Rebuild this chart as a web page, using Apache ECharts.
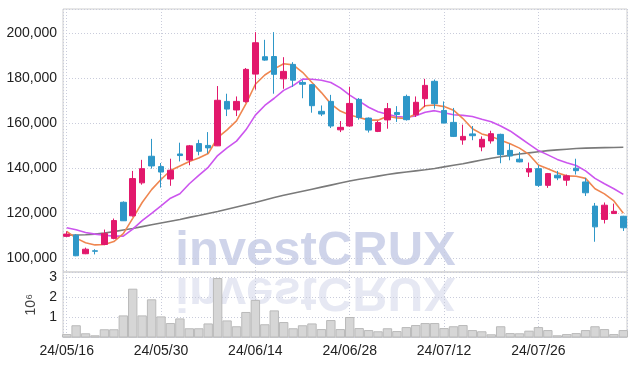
<!DOCTYPE html>
<html>
<head>
<meta charset="utf-8">
<script src="https://cdn.jsdelivr.net/npm/echarts@6/dist/echarts.min.js"></script>
<style>
html,body{margin:0;padding:0;background:#fff;}
#c{width:636px;height:366px;}
</style>
</head>
<body>
<div id="c"></div>
<script>
const dates = ['24/05/16','24/05/17','24/05/20','24/05/21','24/05/22','24/05/23','24/05/24','24/05/27','24/05/28','24/05/29',
'24/05/30','24/05/31','24/06/03','24/06/04','24/06/05','24/06/07','24/06/10','24/06/11','24/06/12','24/06/13',
'24/06/14','24/06/17','24/06/18','24/06/19','24/06/20','24/06/21','24/06/24','24/06/25','24/06/26','24/06/27',
'24/06/28','24/07/01','24/07/02','24/07/03','24/07/04','24/07/05','24/07/08','24/07/09','24/07/10','24/07/11',
'24/07/12','24/07/15','24/07/16','24/07/17','24/07/18','24/07/19','24/07/22','24/07/23','24/07/24','24/07/25',
'24/07/26','24/07/29','24/07/30','24/07/31','24/08/01','24/08/02','24/08/05','24/08/06','24/08/07','24/08/08'];

const openP = [109800,110300,102100,103400,106200,108900,124900,118900,133500,145300,
140700,135200,146300,143600,150900,150100,149900,169600,165800,169500,
181700,189400,189500,179600,186000,178000,177000,165200,169600,157000,
158700,170500,162200,156300,161400,164700,171800,163700,170800,178500,
165600,160300,152500,155200,149400,152100,155000,147900,144000,138300,
139800,132400,136900,134700,140000,133900,123200,117300,119900,118700];
const closeP = [110800,101200,104100,103200,111100,116800,116700,135400,139800,141000,
138300,139100,145600,149900,147500,149000,170100,166200,169600,183800,
195600,187900,181600,182900,179000,177200,167700,164000,158700,158100,
168700,162500,156900,160200,166400,163800,161500,169200,176700,168600,
160000,154100,154100,154400,152800,155300,146000,145400,142800,139800,
132400,137600,135700,136600,138900,129100,114000,123600,120900,113600];
const lowP = [109500,101000,101900,101800,105900,108500,116600,118500,132700,139800,
131400,132200,143000,141300,145700,146500,149800,163100,163100,169000,
174800,187600,173000,175200,176000,171000,164600,163100,157800,156000,
158400,161500,155800,156000,157500,160500,161100,162700,167100,166400,
159900,153800,150400,152400,147500,150900,142200,143500,142600,136100,
131700,131300,134700,132200,137200,127700,107400,115500,119800,112200];
const highP = [112000,110800,104800,104100,112800,117700,125300,138800,143700,153000,
142300,144200,151300,150300,152600,156000,176400,173000,171800,184400,
200300,196900,200300,189200,187000,179000,177300,167800,172500,160900,
176100,171100,162500,161000,168900,167500,172600,171800,179600,179300,
169600,166700,159300,158700,154100,156600,155300,150900,147200,142500,
141300,137900,138800,137200,144200,135700,124600,124800,124300,118900];

const ma5 = [112000,109000,107000,106000,106200,107500,111000,117800,124800,130500,
135000,139000,141000,143000,144500,146500,153500,157000,161000,168500,
177200,181300,184000,186300,185800,182500,178000,173500,168500,165300,
163600,162500,161300,161300,163000,162300,162000,164000,167700,168000,
167300,165700,162000,157500,155200,154100,152400,150800,148900,146100,
141400,139800,138000,136600,136400,135500,130900,128600,125500,120000];
const ma10 = [113600,112700,111500,110800,110300,109900,109900,113000,116800,120000,
123300,126700,128700,133100,136800,140400,145600,149000,152000,157000,
163500,167800,171000,174500,176600,179500,179400,179000,178000,175600,
172400,169700,167000,165000,163900,162900,162600,163200,164800,165500,
164600,163700,163400,162900,161700,160600,158700,156500,153600,150700,
147800,145900,143900,142450,141200,138800,135500,133100,130900,128400];
const ma60 = [110300,110400,110500,110800,111300,111900,112600,113300,114100,114900,
115700,116500,117300,118200,119000,119900,120800,121800,122800,123800,
124800,125900,127000,128000,128900,129800,130700,131600,132500,133400,
134300,135100,135800,136500,137200,137800,138300,138800,139300,139900,
140600,141300,142000,142800,143600,144400,145100,145700,146300,146800,
147300,147800,148100,148400,148700,148900,149000,149100,149200,149300];

const volumeM = [0.17,0.61,0.21,0.11,0.41,0.41,1.10,2.43,1.10,1.90,
1.05,0.72,0.95,0.46,0.46,0.70,2.96,0.85,0.56,1.27,
1.87,0.66,1.35,0.77,0.46,0.61,0.70,0.42,0.87,0.42,
1.02,0.47,0.37,0.31,0.46,0.32,0.52,0.62,0.72,0.72,
0.47,0.56,0.62,0.37,0.31,0.16,0.56,0.22,0.21,0.34,
0.52,0.37,0.11,0.17,0.22,0.37,0.56,0.42,0.17,0.37];

const UP = '#e2186c', DOWN = '#2e97c8';
const FONT = "'Liberation Sans',sans-serif";
const GRIDC = '#c9ccdb';

const candleData = dates.map((d, i) => [i, openP[i], closeP[i], lowP[i], highP[i]]);
const pairs = arr => arr.map((v, i) => [i, v]);

const chart = echarts.init(document.getElementById('c'), null, {renderer: 'canvas'});
const xCommon = {
  type: 'value', min: -0.39, max: 59.39, splitNumber: 6,
  axisLine: {show: false}, axisTick: {show: false},
  splitLine: {show: true, lineStyle: {color: GRIDC, type: [1, 2], width: 1}}
};
chart.setOption({
  animation: false,
  backgroundColor: '#fff',
  grid: [
    {left: 63, right: 9, top: 9, height: 263, show: true, borderColor: '#cfcfcf', borderWidth: 1,
     containLabel: false, outerBoundsMode: 'none'},
    {left: 63, right: 9, top: 272, height: 65.5, show: true, borderColor: '#cfcfcf', borderWidth: 1,
     containLabel: false, outerBoundsMode: 'none'}
  ],
  xAxis: [
    Object.assign({}, xCommon, {gridIndex: 0, axisLabel: {show: false}}),
    Object.assign({}, xCommon, {gridIndex: 1, axisLabel: {
      show: true, showMinLabel: false, showMaxLabel: false, margin: 7,
      color: '#222', fontSize: 14, fontFamily: FONT,
      formatter: v => (Number.isInteger(v) && dates[v]) ? dates[v] : ''
    }})
  ],
  yAxis: [
    {gridIndex: 0, type: 'value', min: 94000, max: 210550, splitNumber: 5,
     axisLine: {show: false}, axisTick: {show: false},
     axisLabel: {showMinLabel: false, showMaxLabel: false, margin: 6, color: '#222', fontSize: 14, fontFamily: FONT,
       formatter: v => v.toLocaleString('en-US')},
     splitLine: {lineStyle: {color: GRIDC, type: [1, 2]}}},
    {gridIndex: 1, type: 'value', min: 0, max: 3.26, splitNumber: 3,
     name: '10\u2076', nameLocation: 'middle', nameRotate: 90, nameGap: 20,
     nameTextStyle: {color: '#444', fontSize: 14, fontFamily: FONT},
     axisLine: {show: false}, axisTick: {show: false},
     axisLabel: {showMinLabel: false, showMaxLabel: false, margin: 6, color: '#222', fontSize: 14, fontFamily: FONT},
     splitLine: {lineStyle: {color: GRIDC, type: [1, 2]}}}
  ],
  graphic: [
    {type: 'text', x: 315.5, y: 251, z: 0, silent: true,
     style: {text: 'investCRUX', font: 'bold 49px "Liberation Sans", sans-serif', fill: 'rgba(196,203,229,0.82)',
       align: 'center', verticalAlign: 'middle', textAlign: 'center', textVerticalAlign: 'middle'}},
    {type: 'text', x: 315.5, y: 292, scaleY: -1, z: 0, silent: true,
     style: {text: 'investCRUX', font: 'bold 49px "Liberation Sans", sans-serif', fill: 'rgba(205,210,232,0.5)',
       align: 'center', verticalAlign: 'middle', textAlign: 'center', textVerticalAlign: 'middle'}}
  ],
  series: [
    {type: 'bar', xAxisIndex: 1, yAxisIndex: 1, data: pairs(volumeM), barWidth: 9.4,
     itemStyle: {color: '#d6d6d6', borderColor: '#bababa', borderWidth: 1}},
    {type: 'line', xAxisIndex: 0, yAxisIndex: 0, data: pairs(ma60), showSymbol: false,
     lineStyle: {color: '#7a7a7a', width: 1.6}, z: 3},
    {type: 'line', xAxisIndex: 0, yAxisIndex: 0, data: pairs(ma10), showSymbol: false,
     lineStyle: {color: '#cc55ee', width: 1.6}, z: 3},
    {type: 'line', xAxisIndex: 0, yAxisIndex: 0, data: pairs(ma5), showSymbol: false,
     lineStyle: {color: '#ef8650', width: 1.6}, z: 4},
    {type: 'candlestick', xAxisIndex: 0, yAxisIndex: 0, data: candleData, barWidth: 6,
     encode: {x: 0, y: [1, 2, 3, 4]},
     itemStyle: {color: UP, color0: DOWN, borderColor: UP, borderColor0: DOWN, borderWidth: 1}, z: 5}
  ]
});
</script>
</body>
</html>
